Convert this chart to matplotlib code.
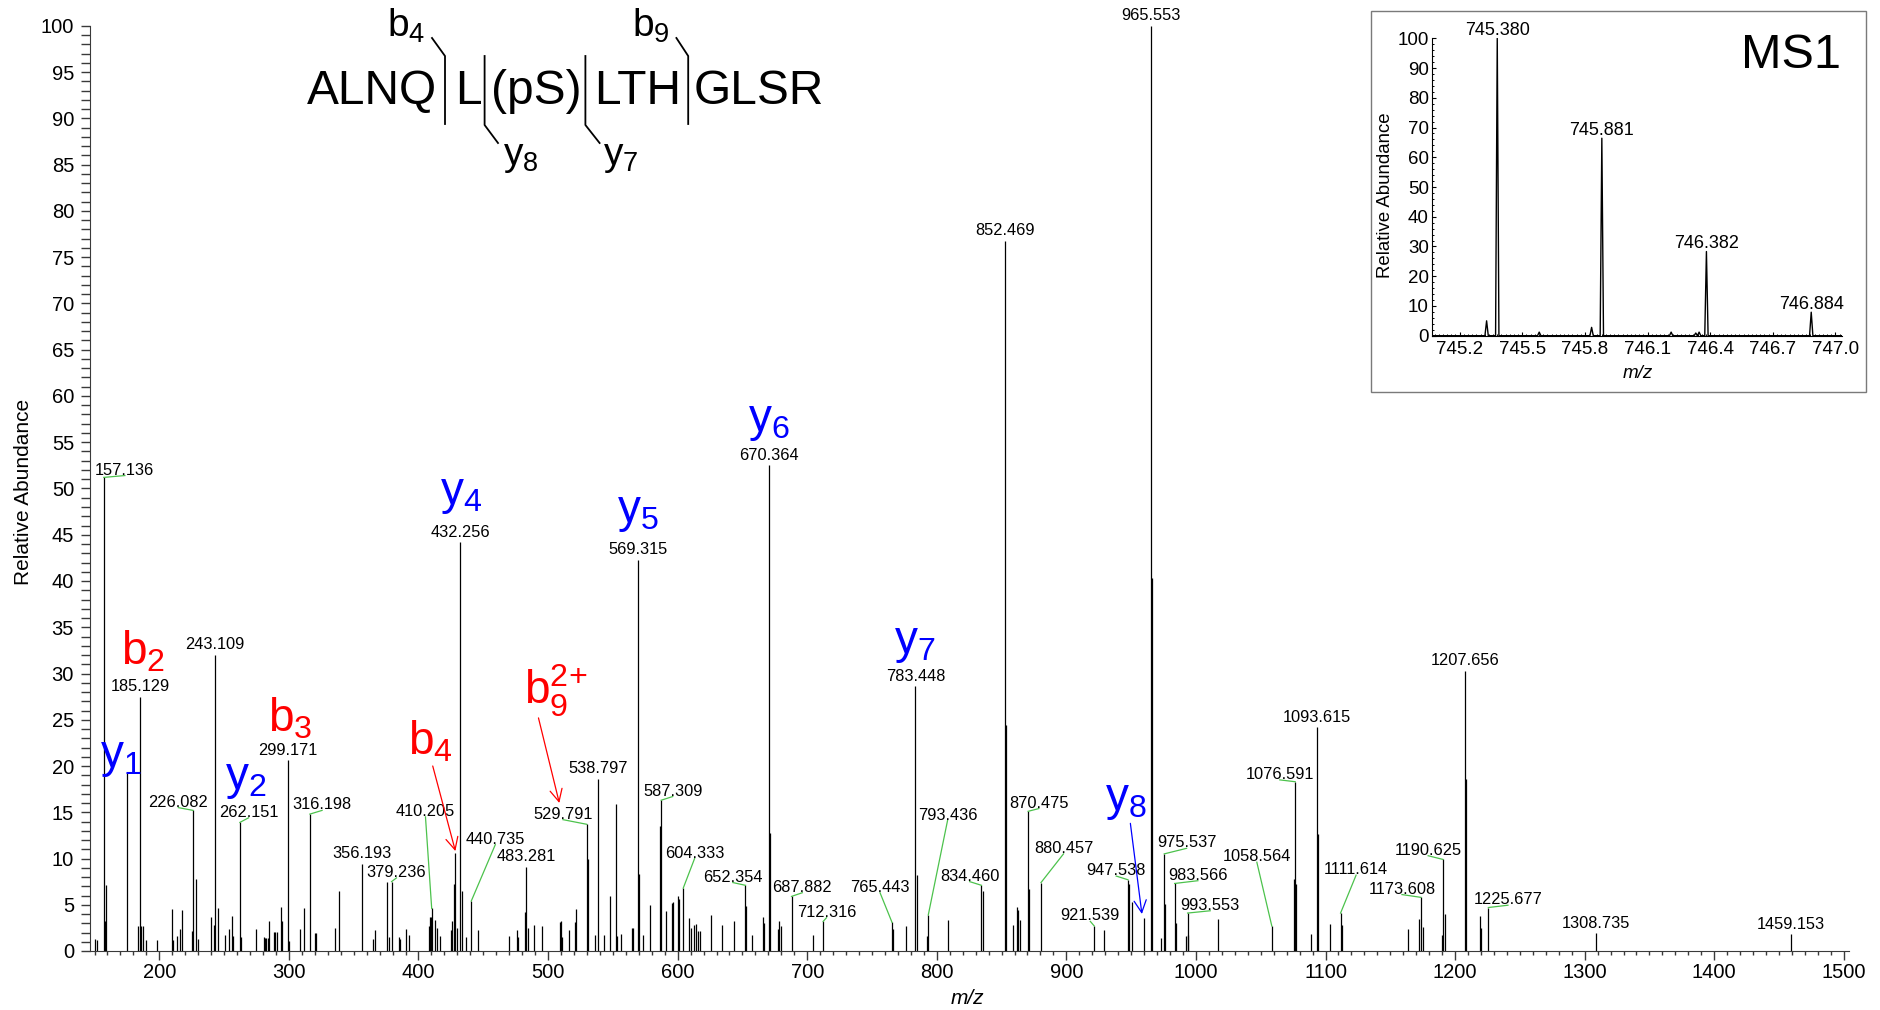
import matplotlib
matplotlib.use("Agg")
import matplotlib.pyplot as plt
from matplotlib.patches import Rectangle
from matplotlib.ticker import MultipleLocator

plt.rcParams['font.family'] = 'Liberation Sans'
plt.rcParams['mathtext.fontset'] = 'custom'
plt.rcParams['mathtext.rm'] = 'Liberation Sans'
plt.rcParams['mathtext.it'] = 'Liberation Sans:italic'
plt.rcParams['mathtext.bf'] = 'Liberation Sans:bold'

W, H = 1881, 1010

# MS2 centroid peaks (m/z, relative abundance)
mz = [150.6, 152.0, 157.136, 157.7, 158.7, 175.119, 183.6, 185.129, 186.1, 187.4,
      189.5, 198.4, 209.5, 210.4, 214.0, 215.6, 217.2, 224.9, 226.082, 228.6,
      229.5, 239.5, 241.9, 243.109, 245.1, 250.8, 254.0, 256.4, 257.0, 262.151,
      263.0, 274.3, 280.6, 281.7, 282.7, 283.7, 284.7, 288.6, 289.6, 290.6,
      293.6, 294.3, 299.171, 299.9, 308.3, 311.5, 316.198, 320.3, 321.1, 335.7,
      338.4, 356.193, 364.9, 366.8, 376.0, 377.2, 379.236, 385.2, 385.8, 390.0,
      392.7, 408.0, 409.0, 409.6, 410.205, 412.9, 414.2, 416.5, 425.0, 426.1,
      427.2, 428.5, 429.5, 432.256, 433.4, 436.9, 440.735, 445.8, 469.9, 475.9,
      476.7, 481.9, 483.281, 484.6, 489.4, 495.6, 509.2, 509.8, 510.5, 516.4,
      520.5, 521.6, 529.791, 530.5, 535.9, 538.797, 543.5, 547.5, 552.6, 553.2,
      556.4, 564.7, 565.8, 569.315, 570.5, 573.3, 578.5, 586.6, 587.309, 591.2,
      595.5, 596.4, 600.2, 601.4, 604.333, 608.4, 610.2, 613.0, 614.3, 616.0,
      616.9, 625.9, 634.1, 643.6, 652.354, 652.9, 657.2, 666.0, 666.8, 670.364,
      671.3, 677.6, 678.5, 679.7, 687.882, 704.6, 712.316, 765.443, 766.5, 776.3,
      783.448, 784.6, 792.6, 793.436, 808.3, 834.460, 835.3, 852.469, 853.4, 858.8,
      862.0, 862.8, 864.0, 870.475, 871.2, 880.457, 921.539, 929.0, 947.538, 948.4,
      950.7, 960.3, 965.553, 966.3, 972.7, 975.537, 976.5, 983.566, 984.4, 992.3,
      993.553, 994.2, 1017.3, 1058.564, 1075.8, 1076.591, 1077.6, 1088.6, 1093.615, 1094.5,
      1103.5, 1111.614, 1112.6, 1164.0, 1172.5, 1173.608, 1175.0, 1189.6, 1190.625, 1192.2,
      1207.656, 1208.5, 1219.0, 1219.8, 1225.677, 1308.735, 1459.153]
intens = [1.3, 1.2, 51.2, 3.2, 7.1, 19.2, 2.7, 27.5, 2.7, 2.7,
          1.2, 1.2, 4.5, 1.2, 1.6, 2.4, 4.4, 2.2, 15.2, 7.8,
          1.3, 3.7, 2.8, 32.0, 4.7, 1.7, 2.4, 3.8, 1.6, 13.9,
          1.5, 2.4, 1.5, 1.4, 1.4, 1.4, 3.2, 2.1, 2.1, 2.1,
          4.8, 3.2, 20.6, 1.1, 2.4, 4.7, 14.8, 1.9, 2.0, 2.5,
          6.5, 9.4, 1.3, 2.3, 7.5, 1.5, 7.5, 1.5, 1.3, 2.4,
          1.7, 2.7, 3.7, 3.7, 4.6, 3.3, 2.5, 1.6, 2.3, 3.2,
          7.2, 10.6, 2.5, 44.2, 6.5, 1.5, 5.4, 2.3, 1.6, 2.3,
          1.5, 4.2, 9.1, 2.5, 2.8, 2.7, 3.1, 3.2, 1.5, 2.3,
          3.1, 4.5, 13.7, 10.0, 1.7, 18.6, 1.7, 5.9, 15.9, 1.6,
          1.8, 2.5, 2.5, 42.3, 8.3, 1.7, 5.0, 13.5, 16.3, 4.3,
          5.2, 5.3, 5.9, 5.6, 6.8, 3.6, 2.5, 2.8, 2.9, 2.2,
          2.2, 3.9, 2.8, 3.2, 7.1, 4.9, 1.7, 3.7, 3.0, 52.5,
          12.8, 2.4, 3.2, 2.7, 5.9, 1.7, 3.2, 3.1, 2.4, 2.7,
          28.6, 8.2, 1.6, 3.9, 3.4, 7.1, 6.5, 76.8, 24.4, 2.8,
          4.8, 4.4, 3.4, 15.1, 6.7, 7.4, 2.7, 2.3, 7.7, 7.2,
          5.3, 3.6, 100.0, 40.3, 1.4, 10.5, 5.1, 7.3, 3.0, 1.6,
          4.1, 1.7, 3.5, 2.7, 7.8, 18.3, 7.2, 1.8, 24.2, 12.6,
          2.9, 4.1, 2.8, 2.4, 3.5, 5.8, 2.6, 1.7, 9.9, 4.0,
          30.3, 18.6, 3.8, 2.5, 4.7, 1.9, 1.8]

# peaks labelled straight above the stick
direct_labels = [185.129, 243.109, 299.171, 356.193, 432.256, 483.281, 538.797,
                 569.315, 670.364, 783.448, 852.469, 965.553, 1093.615, 1207.656,
                 1308.735, 1459.153]
# peaks whose label is moved aside, with a green leader line
leader_labels = [157.136, 226.082, 262.151, 316.198, 379.236, 410.205, 440.735,
                 529.791, 587.309, 604.333, 652.354, 687.882, 712.316, 765.443,
                 793.436, 834.460, 870.475, 880.457, 921.539, 947.538, 975.537,
                 983.566, 993.553, 1058.564, 1076.591, 1111.614, 1173.608,
                 1190.625, 1225.677]
leader_pos = [(173.4, 51.5), (214.7, 15.6), (268.9, 14.5), (325.6, 15.3), (383.0, 8.0),
              (405.4, 14.6), (459.3, 11.6), (511.5, 14.3), (596.2, 16.8), (613.1, 10.1),
              (642.6, 7.5), (696.2, 6.4), (714.9, 3.7), (756.2, 6.4), (808.3, 14.2),
              (825.4, 7.6), (878.8, 15.5), (897.8, 10.6), (918.5, 3.3), (938.5, 8.2),
              (992.8, 11.2), (1001.5, 7.7), (1011.0, 4.45), (1047.0, 9.7), (1064.7, 18.6),
              (1123.6, 8.3), (1159.0, 6.2), (1179.2, 10.4), (1240.8, 5.05)]

# fragment ion annotations
ion_text = [r'$\mathrm{y}_{1}$', r'$\mathrm{b}_{2}$', r'$\mathrm{y}_{2}$', r'$\mathrm{b}_{3}$',
            r'$\mathrm{b}_{4}$', r'$\mathrm{b}_{9}^{2\!+}$', r'$\mathrm{y}_{4}$', r'$\mathrm{y}_{5}$',
            r'$\mathrm{y}_{6}$', r'$\mathrm{y}_{7}$', r'$\mathrm{y}_{8}$']
ion_pos = [(170.5, 18.6), (187.8, 29.9), (267.0, 16.2), (301.0, 22.7), (409.6, 20.2),
           (506.0, 25.1), (433.0, 47.0), (569.0, 45.1), (670.7, 54.9), (783.4, 30.9),
           (945.9, 14.0)]
ion_color = ['blue', 'red', 'blue', 'red', 'red', 'red', 'blue', 'blue', 'blue', 'blue', 'blue']
arrows = [((411.0, 20.0), (428.5, 10.8), 'red'),
          ((492.6, 25.2), (508.7, 16.0), 'red'),
          ((949.4, 13.8), (958.3, 4.0), 'blue')]

# MS1 isotope envelope
ms1_mz = [745.329, 745.380, 745.581, 745.832, 745.881, 746.213, 746.331, 746.347, 746.382, 746.884]
ms1_int = [5.0, 100.0, 1.2, 2.8, 66.4, 1.2, 0.9, 1.2, 28.3, 7.9]
ms1_labels = [745.380, 745.881, 746.382, 746.884]

green = '#4cc24c'
axcol = '#3a3a3a'

fig = plt.figure(figsize=(W / 100, H / 100), dpi=100)

ax = fig.add_axes([90 / W, 59 / H, 1759 / W, 925 / H])
ax.vlines(mz, 0, intens, color='black', lw=0.9)
ax.set_xlim(146.5, 1504)
ax.set_ylim(0, 100)
for s in ['top', 'right']:
    ax.spines[s].set_visible(False)
for s in ['left', 'bottom']:
    ax.spines[s].set_color(axcol)
ax.xaxis.set_minor_locator(MultipleLocator(10))
ax.yaxis.set_major_locator(MultipleLocator(5))
ax.yaxis.set_minor_locator(MultipleLocator(1))
ax.set_xticks(range(200, 1501, 100))
ax.tick_params(axis='y', which='both', length=6.5, width=1, color=axcol, labelsize=14.5, pad=5)
ax.tick_params(axis='x', which='major', length=6.5, width=1, color=axcol, labelsize=14.5, pad=2)
ax.tick_params(axis='x', which='minor', length=3.2, width=1, color=axcol)

height = dict(zip(mz, intens))
for m in direct_labels:
    ax.text(m, height[m] + 0.6, f'{m:.3f}', ha='center', va='baseline', fontsize=11.8, clip_on=False)
for m, (lx, ly) in zip(leader_labels, leader_pos):
    ax.plot([m, lx], [height[m], ly - 0.1], color=green, lw=0.9)
    ax.text(lx, ly, f'{m:.3f}', ha='center', va='baseline', fontsize=11.8)

for t, (x, y), c in zip(ion_text, ion_pos, ion_color):
    ax.text(x, y, t, color=c, fontsize=33, ha='center', va='bottom')
for start, end, c in arrows:
    ax.annotate('', xy=end, xytext=start,
                arrowprops=dict(arrowstyle='->', color=c, lw=0.9, mutation_scale=22,
                                shrinkA=0, shrinkB=0))

fig.text(24 / W, 1 - 492 / H, 'Relative Abundance', rotation=90, ha='center', va='center', fontsize=15)
fig.text(967 / W, 1 - 998 / H, 'm/z', style='italic', ha='center', va='center', fontsize=15)

# overlay in figure pixels for the sequence drawing and inset frame
ov = fig.add_axes([0, 0, 1, 1])
ov.set_xlim(0, W)
ov.set_ylim(H, 0)
ov.axis('off')

seq_parts = ['ALNQ', 'L', '(pS)', 'LTH', 'GLSR']
seq_left = [307, 455, 491, 594, 694]
for s, x in zip(seq_parts, seq_left):
    ov.text(x, 104, s, fontsize=34.5, ha='left', va='baseline')
cut_lines = [([432, 445, 445], [38, 56, 124]),
             ([484.6, 484.6, 498], [56, 125, 143]),
             ([585.4, 585.4, 599.6], [56, 125, 143]),
             ([676.4, 688.2, 688.2], [38, 56, 124])]
for xs, ys in cut_lines:
    ov.plot(xs, ys, color='black', lw=1.3)
frag_names = [r'$\mathrm{b}_{4}$', r'$\mathrm{b}_{9}$', r'$\mathrm{y}_{8}$', r'$\mathrm{y}_{7}$']
frag_xy = [(387, 37), (632, 37), (503, 165), (603, 165)]
for t, (x, y) in zip(frag_names, frag_xy):
    ov.text(x, y, t, fontsize=28, ha='left', va='baseline')

ov.add_patch(Rectangle((1371, 11), 495, 381, fill=False, edgecolor='#7a7a7a', lw=1))

# MS1 inset
ins = fig.add_axes([1431.7 / W, (H - 335.7) / H, 410 / W, 297.4 / H])
prof_x = [745.066]
prof_y = [0.0]
hw = 0.008
for c, h in sorted(zip(ms1_mz, ms1_int)):
    prof_x += [c - hw, c, c + hw]
    prof_y += [0.0, h, 0.0]
prof_x.append(747.03)
prof_y.append(0.0)
ins.plot(prof_x, prof_y, color='black', lw=1.0)
ins.set_xlim(745.066, 747.03)
ins.set_ylim(0, 100)
ins.patch.set_alpha(0)
for s in ['top', 'right']:
    ins.spines[s].set_visible(False)
ins.set_xticks([745.2, 745.5, 745.8, 746.1, 746.4, 746.7, 747.0])
ins.set_xticklabels(['745.2', '745.5', '745.8', '746.1', '746.4', '746.7', '747.0'])
ins.xaxis.set_minor_locator(MultipleLocator(0.02))
ins.yaxis.set_major_locator(MultipleLocator(10))
ins.yaxis.set_minor_locator(MultipleLocator(2))
ins.tick_params(which='major', direction='in', length=3, labelsize=13.5)
ins.tick_params(axis='y', which='major', pad=2)
ins.tick_params(axis='x', which='major', pad=4)
ins.tick_params(which='minor', direction='in', length=1.5, width=0.7)
ms1_h = dict(zip(ms1_mz, ms1_int))
for m in ms1_labels:
    ins.text(m, ms1_h[m] + 1.2, f'{m:.3f}', ha='center', va='baseline', fontsize=13, clip_on=False)

fig.text(1385 / W, 1 - 195 / H, 'Relative Abundance', rotation=90, ha='center', va='center', fontsize=13.4)
fig.text(1638 / W, 1 - 373 / H, 'm/z', style='italic', ha='center', va='center', fontsize=13.5)
fig.text(1841 / W, 1 - 68 / H, 'MS1', ha='right', va='baseline', fontsize=35)

fig.savefig('out.png', dpi=100)
